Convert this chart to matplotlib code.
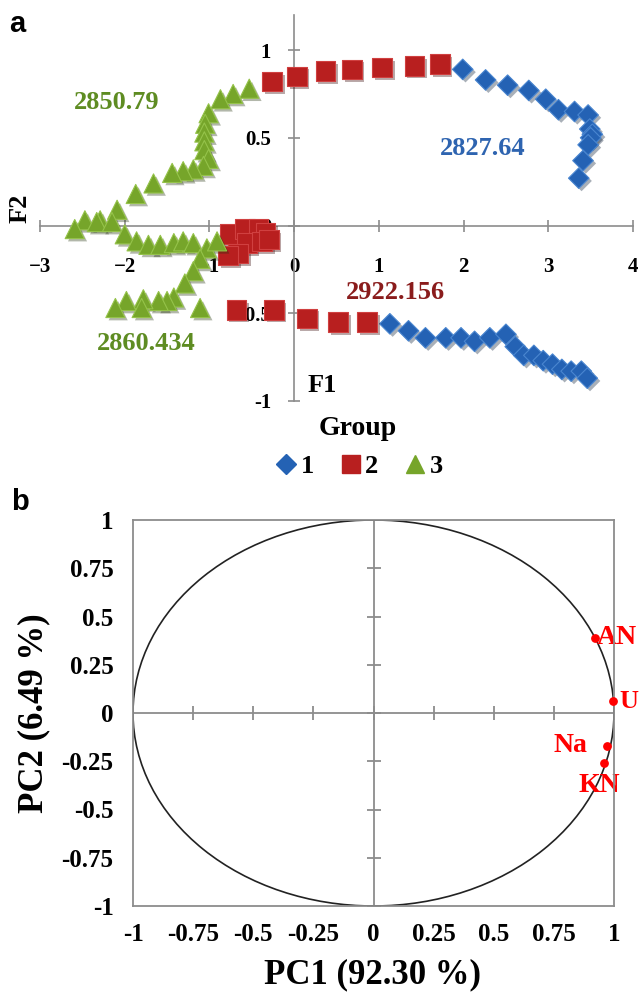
import matplotlib.pyplot as plt
import matplotlib.patheffects as pe
from matplotlib.patches import Circle
from matplotlib.lines import Line2D

# ---- panel a: discriminant scores per group ----
grp1_x = [1.99, 2.26, 2.52, 2.77, 2.97, 3.12, 3.31, 3.47, 3.49, 3.52, 3.50, 3.47, 3.41, 3.36,
          1.13, 1.35, 1.55, 1.79, 1.97, 2.13, 2.31, 2.50, 2.61, 2.71, 2.83, 2.94, 3.05,
          3.16, 3.27, 3.39, 3.46]
grp1_y = [0.89, 0.83, 0.80, 0.77, 0.72, 0.66, 0.65, 0.63, 0.55, 0.52, 0.50, 0.46, 0.37, 0.27,
          -0.56, -0.60, -0.64, -0.64, -0.64, -0.66, -0.64, -0.62, -0.69, -0.74, -0.74, -0.77,
          -0.79, -0.82, -0.83, -0.83, -0.87]

grp2_x = [-0.26, 0.03, 0.37, 0.68, 1.04, 1.42, 1.72,
          -0.68, -0.24, 0.15, 0.52, 0.86,
          -0.76, -0.58, -0.42, -0.34, -0.56, -0.38, -0.66, -0.78, -0.30]
grp2_y = [0.82, 0.85, 0.88, 0.89, 0.90, 0.91, 0.92,
          -0.48, -0.48, -0.53, -0.55, -0.55,
          -0.05, -0.02, -0.02, -0.04, -0.10, -0.09, -0.16, -0.17, -0.08]

grp3_x = [-0.53, -0.72, -0.87, -1.01, -1.05, -1.06, -1.06, -1.06, -1.01, -1.07, -1.19, -1.31,
          -1.44, -1.66, -1.87, -2.09, -2.29, -2.47, -2.33, -2.59, -2.15,
          -2.00, -1.86, -1.72, -1.58, -1.42, -1.31, -1.19, -1.03, -0.91,
          -1.11, -1.19, -1.29, -1.42, -1.50, -1.60, -1.78, -1.98, -2.11, -1.80, -1.11]
grp3_y = [0.78, 0.75, 0.72, 0.64, 0.58, 0.53, 0.48, 0.43, 0.38, 0.34, 0.32, 0.31,
          0.30, 0.24, 0.18, 0.09, 0.03, 0.03, 0.02, -0.02, 0.02,
          -0.05, -0.09, -0.11, -0.11, -0.10, -0.09, -0.10, -0.13, -0.09,
          -0.19, -0.26, -0.33, -0.41, -0.43, -0.43, -0.42, -0.43, -0.47, -0.47, -0.47]

group_names = ['1', '2', '3']
peak_labels = ['2850.79', '2827.64', '2922.156', '2860.434']

# ---- panel b: correlation circle ----
var_names = ['AN', 'U', 'Na', 'KN']
pc1 = [0.92, 0.997, 0.97, 0.96]
pc2 = [0.39, 0.06, -0.17, -0.26]

plt.rcParams['font.family'] = ['Liberation Serif', 'DejaVu Serif']
plt.rcParams['font.weight'] = 'bold'

W, H = 641, 992
GRAY = '#8c8c8c'
BLUE, RED, GREEN = '#2462b4', '#b81f1f', '#76a52a'


def box(l, t, r, b):
    return [l / W, 1 - b / H, (r - l) / W, (b - t) / H]


fig = plt.figure(figsize=(W / 100, H / 100), dpi=100)
shadow = [pe.SimplePatchShadow(offset=(2, -2), alpha=0.35), pe.Normal()]

# panel a
ax = fig.add_axes(box(40, 15, 633, 401))
ax.set_xlim(-3, 4)
ax.set_ylim(-1, 1.2)
for s in ['top', 'right']:
    ax.spines[s].set_visible(False)
for s in ['left', 'bottom']:
    ax.spines[s].set_position(('data', 0))
    ax.spines[s].set_color(GRAY)
    ax.spines[s].set_linewidth(1.2)
ax.set_xticks(range(-3, 5))
ax.set_yticks([-1, -0.5, 0, 0.5, 1])
ax.set_yticklabels(['-1', '-0.5', '0', '0.5', '1'])
ax.tick_params(direction='inout', length=9, width=1.2, color=GRAY, labelsize=15)
ax.tick_params(axis='x', pad=18)
ax.tick_params(axis='y', pad=12)
ax.patch.set_alpha(0)

ax.scatter(grp1_x, grp1_y, marker='D', s=110, c=BLUE, edgecolors='#4a86d0',
           linewidths=0.8, zorder=3, path_effects=shadow)
ax.scatter(grp2_x, grp2_y, marker='s', s=200, c=RED, edgecolors='#d04040',
           linewidths=0.8, zorder=3, path_effects=shadow)
ax.scatter(grp3_x, grp3_y, marker='^', s=190, c=GREEN, edgecolors='#95c34a',
           linewidths=0.8, zorder=3, path_effects=shadow)

ax.text(-2.09, 0.70, peak_labels[0], color='#5e8c22', fontsize=19, ha='center', va='center')
ax.text(2.22, 0.44, peak_labels[1], color='#2e64b0', fontsize=19, ha='center', va='center')
ax.text(1.19, -0.38, peak_labels[2], color='#8a1c1c', fontsize=19, ha='center', va='center')
ax.text(-1.74, -0.67, peak_labels[3], color='#5e8c22', fontsize=19, ha='center', va='center')

fig.text(20 / W, 1 - 208 / H, 'F2', rotation=90, fontsize=19, ha='center', va='center')
fig.text(308 / W, 1 - 386 / H, 'F1', fontsize=19, ha='left', va='center')

handles = [Line2D([], [], ls='none', marker='D', ms=10, color=BLUE),
           Line2D([], [], ls='none', marker='s', ms=13, color=RED),
           Line2D([], [], ls='none', marker='^', ms=13, color=GREEN)]
fig.legend(handles, group_names, title='Group', loc='center', ncol=3,
           bbox_to_anchor=(358 / W, 1 - 447 / H), frameon=False,
           prop={'size': 19, 'weight': 'bold'},
           title_fontproperties={'size': 20, 'weight': 'bold'},
           handletextpad=0.05, columnspacing=0.9, handlelength=1.0)

fig.text(17 / W, 1 - 24 / H, 'a', family='Liberation Sans', fontsize=21, ha='center', va='center')

# panel b
axb = fig.add_axes(box(133, 520, 614, 906))
ticks = [-1, -0.75, -0.5, -0.25, 0, 0.25, 0.5, 0.75, 1]
tick_txt = ['-1', '-0.75', '-0.5', '-0.25', '0', '0.25', '0.5', '0.75', '1']
axb.set_xlim(-1, 1)
axb.set_ylim(-1, 1)
axb.set_xticks(ticks)
axb.set_yticks(ticks)
axb.set_xticklabels(tick_txt)
axb.set_yticklabels(tick_txt)
axb.tick_params(length=0, labelsize=18)
axb.tick_params(axis='x', pad=12)
axb.tick_params(axis='y', pad=14)
for s in axb.spines.values():
    s.set_color(GRAY)
    s.set_linewidth(1.3)
    s.set_zorder(4)
axb.axhline(0, color=GRAY, lw=1.3, zorder=2)
axb.axvline(0, color=GRAY, lw=1.3, zorder=2)
axb.plot(ticks, [0] * len(ticks), ls='none', marker='|', ms=10, mew=1.3, color=GRAY, zorder=2)
axb.plot([0] * len(ticks), ticks, ls='none', marker='_', ms=10, mew=1.3, color=GRAY, zorder=2)
axb.add_patch(Circle((0, 0), 1, fill=False, ec='#222222', lw=1.2, zorder=3))
axb.scatter(pc1, pc2, s=28, c='#ff0000', zorder=5, clip_on=False)

axb.text(pc1[0] + 0.01, pc2[0], var_names[0], color='#ff0000', fontsize=20, ha='left', va='center')
axb.text(pc1[1] + 0.025, pc2[1], var_names[1], color='#ff0000', fontsize=19, ha='left', va='center')
axb.text(pc1[2] - 0.08, pc2[2], var_names[2], color='#ff0000', fontsize=20, ha='right', va='center')
axb.text(pc1[3] - 0.02, pc2[3] - 0.05, var_names[3], color='#ff0000', fontsize=20, ha='center', va='top')

fig.text(373 / W, 1 - 975 / H, 'PC1 (92.30 %)', fontsize=25, ha='center', va='center')
fig.text(34 / W, 1 - 713 / H, 'PC2 (6.49 %)', rotation=90, fontsize=25, ha='center', va='center')
fig.text(20 / W, 1 - 502 / H, 'b', family='Liberation Sans', fontsize=21, ha='center', va='center')

fig.savefig('out.png', dpi=100)
